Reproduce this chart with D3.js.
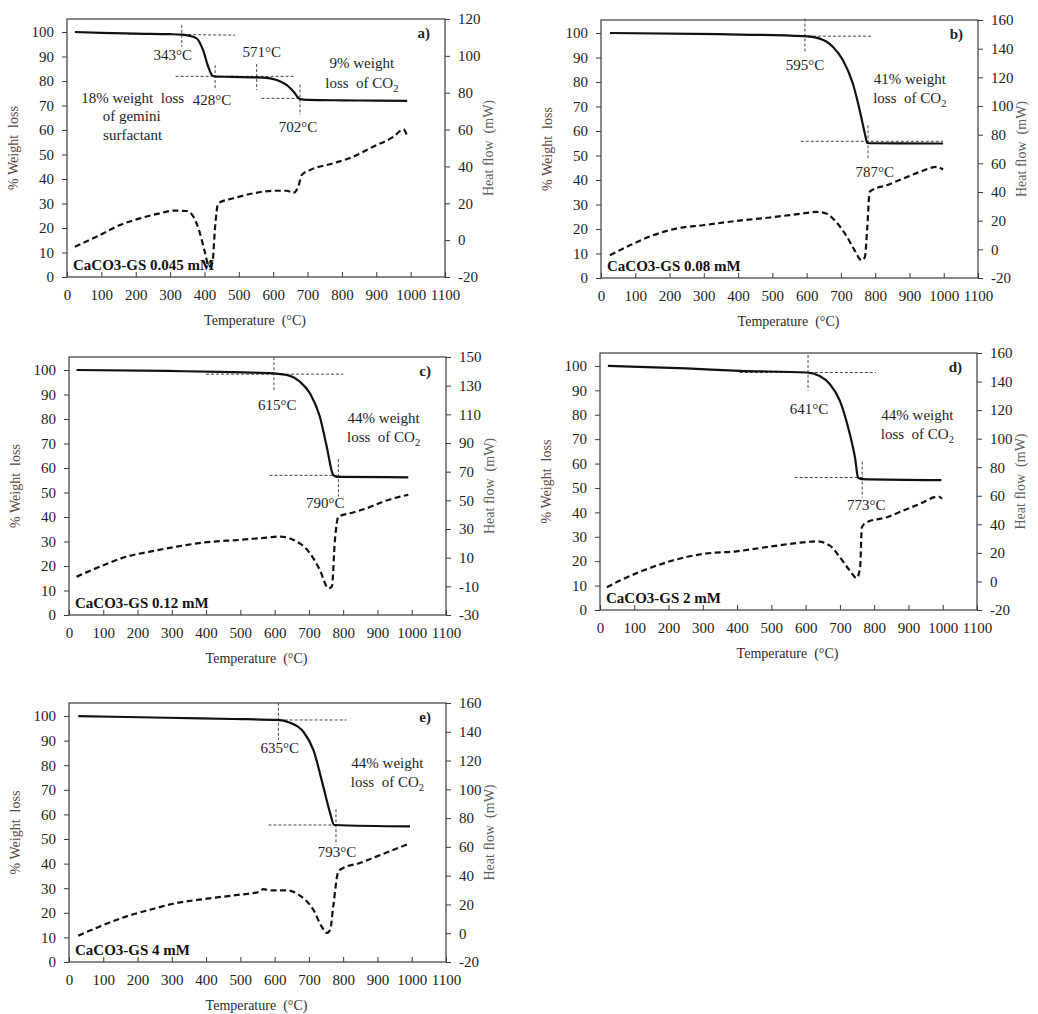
<!DOCTYPE html>
<html><head><meta charset="utf-8">
<script src="https://cdn.jsdelivr.net/npm/d3@7"></script>
<style>
body{margin:0;background:#fff}
svg{display:block}
text{font-family:"Liberation Serif","Times New Roman",serif}
</style>
</head><body>
<svg id="chart" width="1038" height="1014"></svg>
<script>
// ---------- tick labels ----------
const tempTicks = [0,100,200,300,400,500,600,700,800,900,1000,1100];
const weightTicks = [0,10,20,30,40,50,60,70,80,90,100];
const heatTicksA = [-20,0,20,40,60,80,100,120];
const heatTicks160 = [-20,0,20,40,60,80,100,120,140,160];
const heatTicksC = [-30,-10,10,30,50,70,90,110,130,150];

// ---------- panel a: CaCO3-GS 0.045 mM ----------
const aWeightTemp = [23,100,200,300,335,355,377,396,411,423,432,480,540,580,610,639,659,678,700,800,900,990];
const aWeight     = [100,99.6,99.3,99.1,98.9,98.5,97.4,92.6,85.8,82.2,81.8,81.7,81.5,81.3,80.4,78.4,75.7,72.6,72.3,72.1,72,71.9];
const aHeatTemp = [23,96,154,212,271,309,348,368,387,402,413,423,431,440,484,542,600,639,659,673,683,707,775,833,891,950,979,989];
const aHeat     = [-3.6,2.8,8.2,11.8,14.6,16,15.8,12.7,3.7,-7.1,-14.4,-12.6,7.3,20,22.7,25.4,26.8,26.8,25.7,29,35.3,38,41.7,45.3,50.7,56.1,60.1,57];
const aGuides = [[178,99.2,489,98.7],[334,102.9,334,94],[316,81.9,663,81.9],[431,86.5,431,77],[552,86.9,552,76.3],[566,72.9,678,72.9],[678,78.6,678,66.1]];
const aLabels = [
  ["343°C",308,88.6],["428°C",422,70.2],["571°C",567,89.8],["702°C",672,59.2],
  ["9% weight",858,85.3],["loss  of CO2",858,77.1],
  ["18% weight  loss",191,71],["of gemini",188,63.7],["surfactant",191,55.9]];

// ---------- panel b: CaCO3-GS 0.08 mM ----------
const bWeightTemp = [26,347,590,638,677,706,735,755,770,777,790,998];
const bWeight     = [100,99.5,98.7,97.7,94.3,88.9,79.3,68.4,58.9,55.1,55,54.9];
const bHeatTemp = [26,84,152,220,297,394,492,589,628,657,686,715,740,760,770,777,784,794,833,882,930,979,998];
const bHeat     = [-4.1,2.8,9.8,14.5,16.8,19.8,22.2,25,26.1,25,19.1,9.8,-0.7,-7.6,-5.3,15.6,40.1,41.7,44.7,49.4,54,57.5,55.7];
const bGuides = [[595,105.9,595,91.6],[560,98.7,793,98.7],[583,55.8,998,55.8],[779,62.3,779,48]];
const bLabels = [["595°C",595,84.8],["41% weight",901,79],["loss  of CO2",901,71.3],["787°C",799,41.1]];

// ---------- panel c: CaCO3-GS 0.12 mM ----------
const cWeightTemp = [22,285,480,596,645,674,703,732,752,771,781,990];
const cWeight     = [100,99.6,99.1,98.6,97.6,95.2,90.5,80.9,68.7,57.1,56.4,56.2];
const cHeatTemp = [22,90,168,236,314,402,499,577,616,655,703,732,757,767,776,786,820,869,917,966,990];
const cHeat     = [-3.3,3.7,10.7,14.2,17.7,20.8,22.4,24,24.7,22.4,13.1,1.4,-11.4,-10.2,22.4,38.6,41,44.5,49.1,52.6,53.8];
const cGuides = [[598,105.2,598,91.1],[400,98.3,800,98.3],[585,57,791,57],[786,63.6,786,48.3]];
const cLabels = [["615°C",608,83.7],["44% weight",918,78.4],["loss  of CO2",918,70.6],["790°C",748,43.7]];

// ---------- panel d: CaCO3-GS 2 mM ----------
const dWeightTemp = [23,252,408,602,641,671,700,729,744,753,763,996];
const dWeight     = [100,99,98,97.3,95.9,92.5,85.7,72,62.5,54.3,53.6,53.2];
const dHeatTemp = [20,58,126,204,301,398,496,593,632,671,700,729,749,759,764,778,837,885,934,988,998];
const dHeat     = [-4.1,0.6,7.6,14.1,19.3,21.1,24.4,27.4,28.1,25.1,16.9,7.6,2.4,9.9,37.9,41.4,45,49.7,54.4,59.5,57.9];
const dGuides = [[607,104.5,607,89.8],[408,97.3,805,97.3],[568,54.3,768,54.3],[765,60.8,765,46.1]];
const dLabels = [["641°C",610,80.4],["44% weight",926,77.9],["loss  of CO2",926,70.1],["773°C",777,41]];

// ---------- panel e: CaCO3-GS 4 mM ----------
const eWeightTemp = [27,285,480,606,645,684,713,742,762,774,995];
const eWeight     = [100,99.3,98.8,98.4,97.3,93.6,86.2,71.3,60.5,55.7,55.1];
const eHeatTemp = [27,90,168,236,304,402,499,553,568,586,635,674,713,737,752,762,771,786,800,849,898,947,990];
const eHeat     = [-1.7,4.7,11.7,16.3,20.5,24,26.8,28.6,30.7,29.8,29.8,26.1,16.3,4.7,0.2,2.4,18.6,43,45.3,48.8,53.4,58,62];
const eGuides = [[611,105.4,611,90.3],[600,98.4,810,98.4],[582,55.7,771,55.7],[779,62.1,779,47.6]];
const eLabels = [["635°C",615,85],["44% weight",929,79],["loss  of CO2",929,71.3],["793°C",782,42.6]];

const sampleNames = ["CaCO3-GS 0.045 mM","CaCO3-GS 0.08 mM","CaCO3-GS 0.12 mM","CaCO3-GS 2 mM","CaCO3-GS 4 mM"];
const panelTags = ["a)","b)","c)","d)","e)"];

// ---------- layout ----------
const panels = [
  {left:67, top:19, w:378, h:258, heatDomain:[-20,120], heatTicks:heatTicksA, wt:aWeightTemp, wv:aWeight, ht:aHeatTemp, hv:aHeat, guides:aGuides, labels:aLabels},
  {left:601, top:20, w:377, h:258, heatDomain:[-20,160], heatTicks:heatTicks160, wt:bWeightTemp, wv:bWeight, ht:bHeatTemp, hv:bHeat, guides:bGuides, labels:bLabels},
  {left:69, top:357, w:377, h:258, heatDomain:[-30,150], heatTicks:heatTicksC, wt:cWeightTemp, wv:cWeight, ht:cHeatTemp, hv:cHeat, guides:cGuides, labels:cLabels},
  {left:600, top:353, w:377, h:257, heatDomain:[-20,160], heatTicks:heatTicks160, wt:dWeightTemp, wv:dWeight, ht:dHeatTemp, hv:dHeat, guides:dGuides, labels:dLabels},
  {left:69, top:703, w:377, h:259, heatDomain:[-20,160], heatTicks:heatTicks160, wt:eWeightTemp, wv:eWeight, ht:eHeatTemp, hv:eHeat, guides:eGuides, labels:eLabels}
];

const svg = d3.select("#chart");
const FS = 15;
const plain = d => String(d);

function addText(g, str, xx, yy, anchor, opts={}) {
  const t = g.append("text").attr("x", xx).attr("y", yy)
    .attr("text-anchor", anchor).attr("font-size", opts.size || FS)
    .attr("fill", opts.fill || "#1e1e1e").style("white-space","pre");
  if (opts.bold) t.attr("font-weight","bold");
  if (str.endsWith("CO2")) {
    t.append("tspan").text(str.slice(0,-1));
    t.append("tspan").text("2").attr("font-size", (opts.size||FS)*0.7).attr("dy", 4);
  } else t.text(str);
  return t;
}

panels.forEach((p, i) => {
  const g = svg.append("g");
  const x = d3.scaleLinear().domain([0,1100]).range([p.left, p.left + p.w]);
  const y = d3.scaleLinear().domain([0,105.3]).range([p.top + p.h, p.top]);
  const y2 = d3.scaleLinear().domain(p.heatDomain).range([p.top + p.h, p.top]);
  const axisColor = "#3a3a3a";

  // axes
  const ax = g.append("g").attr("transform", `translate(${p.left},0)`)
    .call(d3.axisLeft(y).tickValues(weightTicks).tickFormat(plain).tickSize(5).tickSizeOuter(0).tickPadding(8));
  const ax2 = g.append("g").attr("transform", `translate(${p.left + p.w},0)`)
    .call(d3.axisRight(y2).tickValues(p.heatTicks).tickFormat(plain).tickSize(5).tickSizeOuter(0).tickPadding(8));
  const ax3 = g.append("g").attr("transform", `translate(0,${p.top + p.h})`)
    .call(d3.axisBottom(x).tickValues(tempTicks).tickFormat(plain).tickSizeInner(-5).tickSizeOuter(0).tickPadding(12));
  [ax, ax2, ax3].forEach(a => {
    a.select(".domain").remove();
    a.selectAll("line").attr("stroke", axisColor);
    a.selectAll("text").attr("font-size", FS).attr("fill", "#241c18")
      .style("font-family", '"Liberation Serif","Times New Roman",serif');
  });

  // frame
  g.append("rect").attr("x", p.left).attr("y", p.top).attr("width", p.w).attr("height", p.h)
    .attr("fill", "none").attr("stroke", axisColor).attr("stroke-width", 1.2);

  // axis titles
  g.append("text").attr("transform", `translate(${p.left - 49},${p.top + p.h/2}) rotate(-90)`)
    .attr("text-anchor","middle").attr("font-size",14).attr("fill","#5a4640")
    .style("white-space","pre").text("% Weight  loss");
  g.append("text").attr("transform", `translate(${p.left + p.w + 48},${p.top + p.h/2}) rotate(-90)`)
    .attr("text-anchor","middle").attr("font-size",14).attr("fill","#606060")
    .style("white-space","pre").text("Heat flow  (mW)");
  g.append("text").attr("x", p.left + p.w/2 - 1).attr("y", p.top + p.h + 48)
    .attr("text-anchor","middle").attr("font-size",14).attr("fill","#2b2b2b")
    .style("white-space","pre").text("Temperature  (°C)");

  // guide lines
  g.selectAll(".guide").data(p.guides).enter().append("line")
    .attr("x1", d => x(d[0])).attr("y1", d => y(d[1]))
    .attr("x2", d => x(d[2])).attr("y2", d => y(d[3]))
    .attr("stroke", "#444").attr("stroke-width", 1).attr("stroke-dasharray", "3,2");

  // weight curve
  const lineW = d3.line().x(d => x(d[0])).y(d => y(d[1])).curve(d3.curveMonotoneX);
  g.append("path").attr("d", lineW(d3.zip(p.wt, p.wv)))
    .attr("fill","none").attr("stroke","#111").attr("stroke-width",2.2);

  // heat flow curve
  const lineH = d3.line().x(d => x(d[0])).y(d => y2(d[1])).curve(d3.curveMonotoneX);
  g.append("path").attr("d", lineH(d3.zip(p.ht, p.hv)))
    .attr("fill","none").attr("stroke","#111").attr("stroke-width",2.2)
    .attr("stroke-dasharray","6,3.5");

  // annotations
  p.labels.forEach(l => addText(g, l[0], x(l[1]), y(l[2]), "middle"));
  addText(g, panelTags[i], p.left + p.w - 15, p.top + 19, "end", {bold:true});
  addText(g, sampleNames[i], p.left + 6, p.top + p.h - 7, "start", {bold:true, fill:"#111"});
});
</script>
</body></html>
